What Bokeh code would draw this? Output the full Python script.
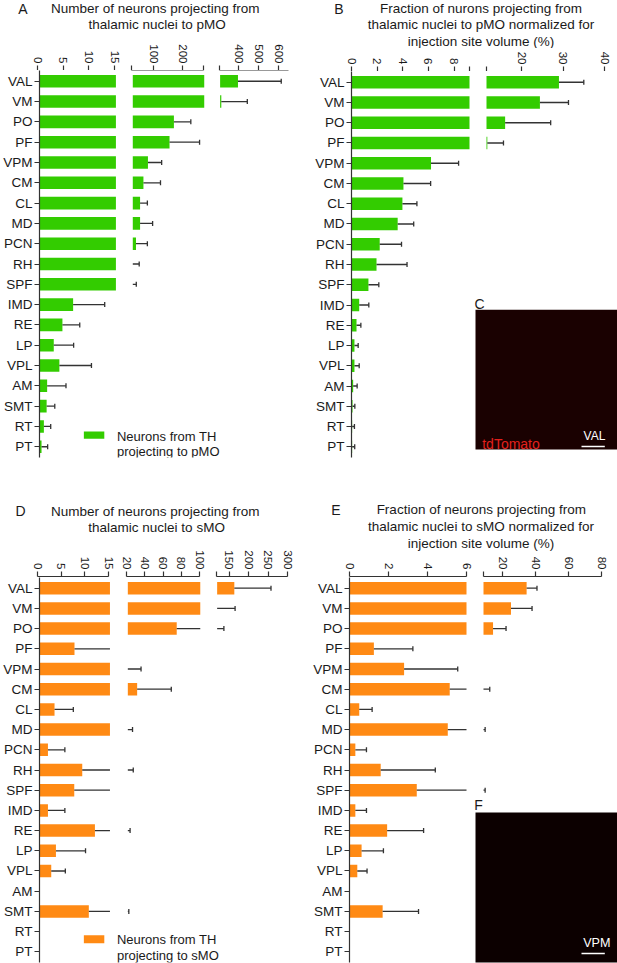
import math
from bokeh.plotting import figure
from bokeh.layouts import row, column
from bokeh.models import Range1d, FactorRange, FixedTicker, Label, LinearAxis
from bokeh.embed import file_html
from bokeh.resources import INLINE

# ---------------- data ----------------
nuclei = ["VAL", "VM", "PO", "PF", "VPM", "CM", "CL", "MD", "PCN", "RH",
          "SPF", "IMD", "RE", "LP", "VPL", "AM", "SMT", "RT", "PT"]

# A: number of neurons projecting to pMO (mean, error)
pmo_count_mean = [395, 311, 166, 151, 77, 61.5, 50, 50, 36, 20, 20, 6.6, 4.5, 2.8, 3.9, 1.5, 1.4, 0.86, 0.4]
pmo_count_err = [218, 131, 58, 103, 47, 58.5, 25, 43, 39, 27, 17, 6.2, 3.4, 3.9, 6.3, 3.7, 1.6, 1.34, 1.2]
# B: fraction (%) normalized for injection site volume, pMO
pmo_frac_mean = [29.0, 24.4, 16.0, 11.7, 6.2, 4.05, 3.97, 3.6, 2.2, 1.95, 1.32, 0.6, 0.39, 0.23, 0.23, 0.13, 0.08, 0.05, 0.05]
pmo_frac_err = [6.0, 6.9, 11.0, 3.9, 2.15, 2.12, 1.13, 1.25, 1.7, 2.38, 0.81, 0.75, 0.34, 0.29, 0.37, 0.31, 0.18, 0.18, 0.2]
# D: number of neurons projecting to sMO
smo_count_mean = [162, 110, 74, 7.45, 17, 30.3, 3.2, 17, 1.8, 9.1, 7.4, 1.8, 11.8, 3.5, 2.5, 0, 10.5, 0, 0]
smo_count_err = [95, 54, 61, 9.6, 17.6, 37.7, 4.0, 8.2, 3.6, 16.9, 9.6, 3.6, 10.7, 6.3, 3.0, 0, 10.6, 0, 0]
# E: fraction (%) normalized for injection site volume, sMO
smo_frac_mean = [34.5, 25.0, 14.1, 1.25, 2.8, 5.14, 0.5, 5.04, 0.3, 1.6, 3.45, 0.3, 1.93, 0.62, 0.4, 0, 1.7, 0, 0]
smo_frac_err = [6.3, 12.8, 7.9, 2.0, 2.75, 6.96, 0.66, 4.26, 0.57, 2.8, 5.85, 0.57, 1.87, 1.12, 0.5, 0, 1.84, 0, 0]

# broken-axis segments (value ranges) and tick labels
A_breaks = [(0, 15), (25, 270), (305, 650)]
A_ticks = [[0, 5, 10, 15], [100, 200], [400, 500, 600]]
A_minor = [[], [25, 270], [305]]
B_breaks = [(0, 9.2), (11.5, 40)]
B_ticks = [[0, 2, 4, 6, 8], [20, 30, 40]]
B_minor = [[9.2], [11.5]]
D_breaks = [(0, 15), (20, 100), (117.5, 300)]
D_ticks = [[0, 5, 10, 15], [20, 40, 60, 80, 100], [150, 200, 250, 300]]
D_minor = [[], [], [117.5]]
E_breaks = [(0, 6), (8.3, 80)]
E_ticks = [[0, 2, 4, 6], [20, 40, 60, 80]]
E_minor = [[], [8.3]]

GREEN = "#33CC00"
ORANGE = "#FF8A14"
ERR = "#333333"
AX = "#333333"
TXT = "#1a1a1a"
FONT = "Liberation Sans"
PAD = 0.03


def fs(px):
    return "%.1fpx" % px


def blank(p):
    p.outline_line_color = None
    p.grid.visible = False
    p.background_fill_color = "white"
    p.border_fill_color = "white"


def seg_data(means, errs, v0, v1):
    bars = dict(y=[], left=[], right=[])
    lines = dict(y=[], x0=[], x1=[])
    caps = dict(y=[], x=[])
    for name, m, e in zip(nuclei, means, errs):
        if m > v0:
            bars["y"].append(name)
            bars["left"].append(v0)
            bars["right"].append(min(m, v1))
        if e > 0:
            end = m + e
            lo, hi = max(m, v0), min(end, v1)
            if hi > lo:
                lines["y"].append(name)
                lines["x0"].append(lo)
                lines["x1"].append(hi)
            if v0 < end <= v1:
                caps["y"].append(name)
                caps["x"].append(end)
    return bars, lines, caps


def label(p, x, y, text, size, color=TXT, align="center"):
    p.add_layout(Label(x=x, y=y, text=text, text_font=FONT, text_font_size=fs(size),
                       text_color=color, text_align=align, text_baseline="middle"))


def build_panel(cfg, means, errs, breaks, ticks, minors, color):
    x0, x1, y0, y_end = cfg["x0"], cfg["x1"], cfg["y0"], cfg["y_end"]
    W = round(x1) - round(x0)
    H = round(y_end) - round(y0)
    th = round(y0 + cfg["title_h"]) - round(y0)
    ah = round(cfg["axis_y"]) - round(y0 + cfg["title_h"])
    mh = H - th - ah
    frame_h = round(cfg["frame_bottom"]) - round(cfg["axis_y"])
    ox = round(x0)
    Lm = round(cfg["yaxis_x"]) - ox
    top_ref, bot_ref = cfg["axis_y"], cfg["axis_y"] + frame_h
    n = len(nuclei)

    def ysyn(yref):
        # page position -> synthetic categorical coordinate of the main frame
        return -PAD + (bot_ref - yref) / (bot_ref - top_ref) * (n + 2 * PAD)

    # ---- title strip (frame aligned with the plot frame below) ----
    tf = figure(width=W, height=th, x_range=Range1d(ox + Lm, ox + W),
                y_range=Range1d(y0 + th, y0), x_axis_location=None, y_axis_location=None,
                min_border_left=Lm, min_border_right=0, min_border_top=0, min_border_bottom=0,
                toolbar_location=None, output_backend="svg")
    blank(tf)
    # panel letter, drawn as the single label of an invisible left axis (sits in the margin)
    let_txt, let_x, let_y = cfg["letter"]
    let_w = 9.5
    lax = LinearAxis(ticker=FixedTicker(ticks=[let_y], minor_ticks=[]),
                     major_label_overrides={let_y: let_txt})
    lax.axis_line_color = None
    lax.major_tick_line_color = None
    lax.minor_tick_line_color = None
    lax.major_tick_out = 0
    lax.major_tick_in = 0
    lax.major_label_standoff = max(0, int(round((ox + Lm) - (let_x + let_w / 2))))
    lax.major_label_text_font = FONT
    lax.major_label_text_font_size = fs(14)
    lax.major_label_text_color = TXT
    tf.add_layout(lax, "left")
    for txt, tx, ty in cfg["title"]:
        label(tf, tx, ty, txt, 13.5)

    # ---- one top axis per axis segment ----
    pix = [(round(a) - ox, round(b) - ox) for a, b in cfg["seg_px"]]
    bounds = [0]
    for k in range(len(pix) - 1):
        bounds.append(round((pix[k][1] + pix[k + 1][0]) / 2))
    bounds.append(W)
    axfigs = []
    for k, ((v0, v1), (p0, p1)) in enumerate(zip(breaks, pix)):
        af = figure(width=bounds[k + 1] - bounds[k], height=ah, x_range=Range1d(v0, v1),
                    y_range=Range1d(0, 1), x_axis_location="above", y_axis_location=None,
                    min_border_left=p0 - bounds[k], min_border_right=bounds[k + 1] - p1,
                    min_border_top=ah - 1, min_border_bottom=0,
                    toolbar_location=None, output_backend="svg")
        blank(af)
        ax = af.xaxis[0]
        ax.ticker = FixedTicker(ticks=ticks[k], minor_ticks=minors[k])
        ax.major_label_orientation = -math.pi / 2
        ax.axis_line_color = AX
        ax.axis_line_width = 1.2
        ax.major_tick_line_color = AX
        ax.major_tick_line_width = 1.2
        ax.minor_tick_line_color = AX
        ax.minor_tick_line_width = 1.2
        ax.major_tick_out = 5
        ax.major_tick_in = 0
        ax.minor_tick_out = 5
        ax.minor_tick_in = 0
        ax.major_label_standoff = 2
        ax.major_label_text_font = FONT
        ax.major_label_text_font_size = fs(11.5)
        ax.major_label_text_color = TXT
        axfigs.append(af)

    # ---- bars (each axis segment gets its own x range) ----
    extra_x = {}
    for k, ((v0, v1), (p0, p1)) in enumerate(zip(breaks, pix)):
        sc = (v1 - v0) / (p1 - p0)
        extra_x["s%d" % k] = Range1d(v0 - (p0 - Lm) * sc, v1 + (W - p1) * sc)
    mf = figure(width=W, height=mh, x_range=Range1d(ox + Lm, ox + W),
                y_range=FactorRange(factors=list(reversed(nuclei)), range_padding=PAD,
                                    range_padding_units="absolute"),
                x_axis_location=None, y_axis_location="left",
                min_border_left=Lm, min_border_right=0, min_border_top=0,
                min_border_bottom=mh - frame_h, toolbar_location=None, output_backend="svg")
    blank(mf)
    mf.extra_x_ranges = extra_x
    ya = mf.yaxis[0]
    ya.axis_line_color = AX
    ya.axis_line_width = 1.2
    ya.major_tick_line_color = AX
    ya.major_tick_line_width = 1.2
    ya.major_tick_out = 5
    ya.major_tick_in = 0
    ya.major_label_standoff = 2
    ya.major_label_text_font = FONT
    ya.major_label_text_font_size = fs(13.5)
    ya.major_label_text_color = TXT

    for k, (v0, v1) in enumerate(breaks):
        bars, lines, caps = seg_data(means, errs, v0, v1)
        rn = "s%d" % k
        mf.hbar(y="y", left="left", right="right", height=0.62, source=bars,
                fill_color=color, line_color=None, x_range_name=rn)
        mf.segment(x0="x0", y0="y", x1="x1", y1="y", source=lines, line_color=ERR,
                   line_width=1.3, x_range_name=rn)
        mf.scatter(x="x", y="y", source=caps, marker="dash", angle=math.pi / 2, size=5,
                   line_color=ERR, line_width=1.3, x_range_name=rn)

    if "legend" in cfg:
        lg = cfg["legend"]
        l, r, t, b = lg["swatch"]
        mf.quad(left=[l], right=[r], top=[ysyn(t)], bottom=[ysyn(b)], fill_color=color,
                line_color=None)
        for txt, yy in lg["lines"]:
            label(mf, lg["x"], ysyn(yy), txt, 13, align="left")
    if "image" in cfg:
        im = cfg["image"]
        l, r, t, b = im["rect"]
        mf.quad(left=[l], right=[r], top=[ysyn(t)], bottom=[ysyn(b)], fill_color=im["fill"],
                line_color=None)
        bx0, bx1, by = im["bar"]
        mf.segment(x0=[bx0], y0=[ysyn(by)], x1=[bx1], y1=[ysyn(by)], line_color="white",
                   line_width=1.5)
        let = im["letter"]
        label(mf, let[1], ysyn(let[2]), let[0], 14)
        for txt, xx, yy, col, size, al in im["texts"]:
            label(mf, xx, ysyn(yy), txt, size, color=col, align=al)

    return column(tf, row(*axfigs), mf)


cfgA = dict(x0=0, x1=300, y0=0, y_end=470, title_h=42, axis_y=70, frame_bottom=456.7, yaxis_x=37.3,
            seg_px=[(37.3, 113.7), (130.7, 202.7), (219.3, 288.3)],
            letter=("A", 20, 7.5),
            title=[("Number of neurons projecting  from", 155.5, 7.5),
                   ("thalamic nuclei to pMO", 155.5, 24)],
            legend=dict(swatch=(81.7, 102.3, 431, 438.3), x=115,
                        lines=[("Neurons from TH", 435.5), ("projecting to pMO", 451)]))
cfgB = dict(x0=300, x1=617, y0=0, y_end=470, title_h=48, axis_y=71, frame_bottom=456.7, yaxis_x=351,
            seg_px=[(351, 469), (485.7, 604.3)],
            letter=("B", 338.7, 7.5),
            title=[("Fraction of nurons projecting from", 480.5, 7.5),
                   ("thalamic nuclei to pMO normalized for", 480.5, 24),
                   ("injection site volume (%)", 480.5, 40.7)],
            image=dict(rect=(475, 640, 309.3, 449), fill="#1a0101", bar=(581, 604.3, 446),
                       letter=("C", 479, 303.3),
                       texts=[("tdTomato", 481.7, 443.3, "#E3201C", 14, "left"),
                              ("VAL", 594, 435.7, "white", 12, "center")]))
cfgD = dict(x0=0, x1=300, y0=470, y_end=963, title_h=70, axis_y=577.3, frame_bottom=962, yaxis_x=36.7,
            seg_px=[(36.7, 108.3), (126, 198.7), (216, 287.3)],
            letter=("D", 18.7, 510.7),
            title=[("Number of neurons projecting  from", 155.5, 510.7),
                   ("thalamic nuclei to sMO", 155, 527.3)],
            legend=dict(swatch=(81.7, 102.3, 935, 943), x=115,
                        lines=[("Neurons from TH", 939), ("projecting to sMO", 955)]))
cfgE = dict(x0=300, x1=617, y0=470, y_end=963, title_h=82, axis_y=576.7, frame_bottom=962, yaxis_x=349,
            seg_px=[(349, 466), (482.7, 601)],
            letter=("E", 335.3, 509.3),
            title=[("Fraction of neurons projecting from", 480.8, 509.3),
                   ("thalamic nuclei to sMO normalized for", 480.5, 526),
                   ("injection site volume (%)", 480.5, 542.7)],
            image=dict(rect=(475, 640, 811.7, 980), fill="#0c0000", bar=(581, 604.3, 952.7),
                       letter=("F", 478, 804.3),
                       texts=[("VPM", 596.3, 941.7, "white", 12.6, "center")]))

pA = build_panel(cfgA, pmo_count_mean, pmo_count_err, A_breaks, A_ticks, A_minor, GREEN)
pB = build_panel(cfgB, pmo_frac_mean, pmo_frac_err, B_breaks, B_ticks, B_minor, GREEN)
pD = build_panel(cfgD, smo_count_mean, smo_count_err, D_breaks, D_ticks, D_minor, ORANGE)
pE = build_panel(cfgE, smo_frac_mean, smo_frac_err, E_breaks, E_ticks, E_minor, ORANGE)

root = column(row(pA, pB), row(pD, pE))
open("out.html", "w").write(file_html(root, INLINE))
